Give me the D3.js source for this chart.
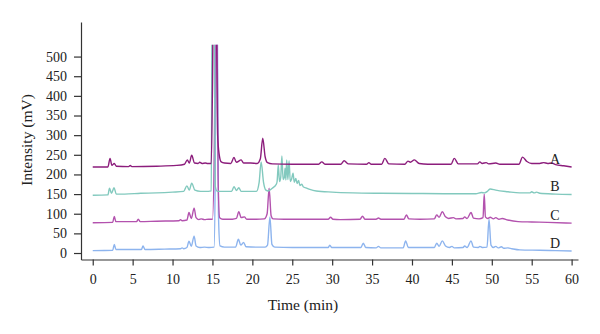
<!DOCTYPE html>
<html>
<head>
<meta charset="utf-8">
<script src="https://cdn.jsdelivr.net/npm/d3@7"></script>
<style>
  html, body { margin: 0; padding: 0; background: #fff; }
  svg { display: block; font-family: "Liberation Serif", "DejaVu Serif", serif; }
</style>
</head>
<body>
<svg id="chart" width="600" height="334"></svg>
<script>
// Chromatogram traces: retention time (min) and detector response (mV)
const timeA = [0,1.9,2.17,2.4,2.7,2.95,4.5,4.7,4.9,8,10.5,11.5,11.85,12.1,12.4,12.75,13.2,13.4,13.7,14.1,14.4,14.85,15.0,15.1,15.45,15.65,15.85,16.1,16.5,17.3,17.7,18.0,18.6,18.9,19.8,20.6,21.0,21.3,21.6,21.9,22.5,25,28.3,28.7,29.1,31.1,31.5,32.0,34.3,34.6,34.9,36.2,36.6,37.1,39.1,39.5,39.8,40.3,40.9,42,44.9,45.3,45.8,48.2,48.5,48.8,49.3,49.6,50.5,51,53.4,53.85,54.4,55,56,56.5,57,57.5,58,59,60];
const valueA = [219,219,241,223,228,221,220,223,220,221,223,226,237,229,249,229,228,231,228,229,228,228,420,640,640,300,250,232,229,228,243,231,237,229,229,228,240,292,245,230,227,226,226,232,226,226,235,227,226,230,226,226,241,227,226,234,231,237,228,226,226,241,227,227,232,228,230,227,229,226,226,244,233,228,228,230,228,229,225,222,219];

const timeB = [0,1.9,2.1,2.35,2.67,2.95,4,6,8,10,11.4,11.8,12.1,12.4,12.8,13.5,14.5,14.85,14.95,15.2,15.35,15.6,17.4,17.7,18.0,18.3,18.6,20.5,20.85,21.1,21.4,21.7,22.0,22.5,23.0,23.1,23.25,23.4,23.55,23.7,23.85,24.0,24.1,24.2,24.3,24.45,24.6,24.75,24.9,25.1,25.25,25.45,25.6,25.8,25.95,26.2,26.4,26.7,27.2,28,30,32.6,36,40,44,48,48.7,49.1,49.5,49.8,50.5,52,53.5,54.8,55.0,55.3,55.6,56,58,60];
const valueB = [147,148,165,152,166,150,150,152,153,155,157,171,160,178,160,157,157,158,640,640,170,157,157,169,159,166,157,157,180,232,180,160,158,165,175,182,224,182,192,247,187,192,216,186,237,187,235,182,187,203,180,190,177,185,172,175,168,166,162,158,155,153,152,151.5,151,151,154,153,158,163,160,156,153,153,156,153,155,152,150,149];

const timeC = [0,2.5,2.7,2.9,5.5,5.7,5.95,8,10.8,11.0,11.2,11.8,12.06,12.35,12.7,12.95,13.3,13.6,14,14.5,15.0,15.25,15.4,15.55,15.7,15.9,16.3,17.5,18.0,18.3,18.6,19.0,19.3,20.5,21.5,21.85,22.1,22.35,22.6,24,26,28,29.5,29.8,30.1,31,33.5,33.8,34.1,35.5,35.8,36.1,39,39.3,39.6,41,42.8,43.1,43.4,43.8,44.2,44.6,45.2,45.5,46.4,46.6,46.9,47.4,47.7,48.4,48.9,49.05,49.2,49.5,49.8,50.2,50.5,50.9,51.3,52,53.3,55,57,60];
const valueC = [77,78,93,80,80,86,80,81,82,85,82,84,103,88,114,90,85,87,85,86,86,300,640,640,200,90,86,86,88,105,90,92,86,86,87,100,165,95,87,86,86,86,86,91,86,85,86,94,86,86,89,86,86,97,87,86,87,97,91,105,92,88,90,87,88,92,88,103,89,87,90,150,92,88,91,87,90,86,88,84,80,79,78,76];

const timeD = [0,2.5,2.7,2.9,6.1,6.3,6.55,9,11,11.2,11.4,11.8,12.06,12.35,12.7,12.95,13.4,14,14.6,15.2,15.35,15.45,15.6,15.75,15.95,16.5,17.9,18.25,18.55,18.9,19.2,20.5,21.6,21.9,22.2,22.45,22.8,25,27,29.5,29.7,29.95,33.6,33.9,34.2,35.5,35.8,36.1,38.9,39.2,39.55,42.8,43.1,43.4,43.8,44.2,44.7,45.0,45.3,46.4,46.6,46.9,47.4,47.7,48.3,48.5,48.8,49.4,49.65,49.9,50.2,50.5,50.8,51.2,51.5,52,52.5,53.5,56,58,60];
const valueD = [6,7,22,9,9,18,9,10,11,13,11,14,30,17,43,18,14,15,14,15,200,640,640,100,18,15,15,35,20,27,16,15,15,20,92,22,15,14,14,14,20,14,14,25,14,13,17,13,13,31,14,14,25,17,31,18,14,17,13,14,18,14,31,15,14,17,14,15,86,20,14,17,13,16,12,13,11,8,7,6,5];

const seriesNames = ["A", "B", "C", "D"];
const seriesColors = ["#8c1d7c", "#82c9be", "#b352ae", "#8db4ee"];
const xTicks = d3.range(0, 61, 5);
const yTicks = d3.range(0, 501, 50);

const series = [
  { name: seriesNames[0], color: seriesColors[0], t: timeA, v: valueA },
  { name: seriesNames[1], color: seriesColors[1], t: timeB, v: valueB },
  { name: seriesNames[2], color: seriesColors[2], t: timeC, v: valueC },
  { name: seriesNames[3], color: seriesColors[3], t: timeD, v: valueD }
];

const svg = d3.select("#chart");

const x = d3.scaleLinear().domain([-1.47, 60.8]).range([81, 578]);
const y = d3.scaleLinear().domain([-16.5, 588]).range([259.5, 22]);
const clipTop = 530;

svg.append("defs").append("clipPath").attr("id", "plot-clip")
  .append("rect")
  .attr("x", x.range()[0]).attr("y", y(clipTop))
  .attr("width", x.range()[1] - x.range()[0])
  .attr("height", y.range()[0] - y(clipTop));

const line = d3.line()
  .x(d => x(d[0]))
  .y(d => y(d[1]))
  .curve(d3.curveMonotoneX);

const traces = svg.append("g").attr("clip-path", "url(#plot-clip)");
// draw bottom trace first so the upper ones sit on top
series.slice().reverse().forEach(s => {
  traces.append("path")
    .datum(s.t.map((t, i) => [t, s.v[i]]))
    .attr("fill", "none")
    .attr("stroke", s.color)
    .attr("stroke-width", 1.4)
    .attr("stroke-linejoin", "round")
    .attr("d", line);
});

// trace labels just above the right end of each trace
series.forEach(s => {
  const base = s.v[s.v.length - 1];
  svg.append("text")
    .attr("x", 555)
    .attr("y", y(base) - 3)
    .attr("text-anchor", "middle")
    .attr("font-size", 14)
    .attr("fill", "#222")
    .text(s.name);
});

// axes
const xAxis = svg.append("g")
  .attr("transform", `translate(0,${y.range()[0]})`)
  .call(d3.axisBottom(x).tickValues(xTicks).tickSize(6).tickSizeOuter(0).tickPadding(9));
const yAxis = svg.append("g")
  .attr("transform", `translate(${x.range()[0]},0)`)
  .call(d3.axisLeft(y).tickValues(yTicks).tickSize(7).tickSizeOuter(0).tickPadding(7));

[xAxis, yAxis].forEach(g => {
  g.selectAll("path, line").attr("stroke", "#333").attr("stroke-width", 1.2);
  g.selectAll("text")
    .attr("font-family", "'Liberation Serif', serif")
    .attr("font-size", 14)
    .attr("fill", "#222");
});

svg.append("text")
  .attr("x", 303).attr("y", 310)
  .attr("text-anchor", "middle")
  .attr("font-size", 15.5)
  .attr("fill", "#222")
  .text("Time (min)");

svg.append("text")
  .attr("transform", "translate(32,140) rotate(-90)")
  .attr("text-anchor", "middle")
  .attr("font-size", 15.5)
  .attr("fill", "#222")
  .text("Intensity (mV)");
</script>
</body>
</html>
